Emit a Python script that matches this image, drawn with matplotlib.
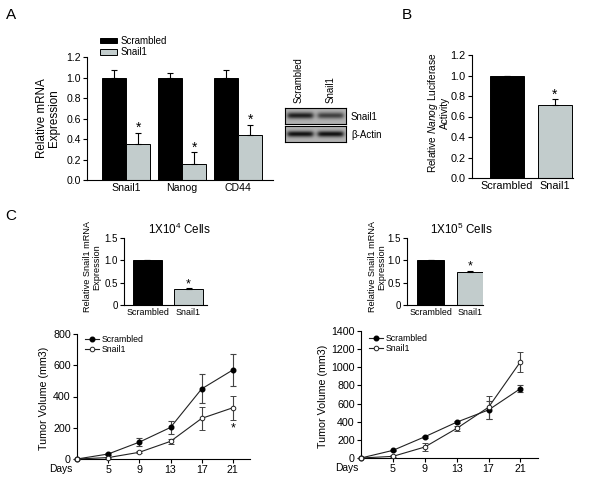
import matplotlib
matplotlib.use('Agg')
import matplotlib.pyplot as plt
import numpy as np
from matplotlib.lines import Line2D
from matplotlib.patches import Patch

plt.rcParams['font.family'] = ['Liberation Sans', 'DejaVu Sans']
plt.rcParams['mathtext.fontset'] = 'custom'
plt.rcParams['mathtext.rm'] = 'Liberation Sans'
plt.rcParams['mathtext.it'] = 'Liberation Sans:italic'

W, H = 600, 488
GRAY = '#c2cccc'

# panel A: qPCR
genes = ['Snail1', 'Nanog', 'CD44']
a_scr = [1.0, 1.0, 1.0]
a_scr_err = [0.07, 0.04, 0.07]
a_sn = [0.35, 0.16, 0.44]
a_sn_err = [0.11, 0.11, 0.10]

# panel B: luciferase
groups = ['Scrambled', 'Snail1']
b_vals = [1.0, 0.71]
b_err = [0.0, 0.06]

# panel C: inset bars
c1_vals = [1.0, 0.36]
c1_err = [0.0, 0.02]
c2_vals = [1.0, 0.75]
c2_err = [0.0, 0.02]

# panel C: tumor growth
days = [0, 5, 9, 13, 17, 21]
t1_scr = [0, 32, 108, 202, 449, 570]
t1_scr_err = [0, 8, 25, 40, 93, 100]
t1_sn = [0, 9, 43, 113, 260, 328]
t1_sn_err = [0, 4, 6, 15, 75, 78]
t2_scr = [0, 84, 234, 395, 530, 765]
t2_scr_err = [0, 8, 10, 12, 95, 37]
t2_sn = [0, 18, 121, 326, 560, 1061]
t2_sn_err = [0, 10, 45, 25, 125, 110]

# western blot band strength per lane
blot_lanes = ['Scrambled', 'Snail1']
blot_snail1 = [0.58, 0.45]
blot_actin = [0.64, 0.64]


def px_axes(fig, left, top, right, bottom):
    return fig.add_axes([left / W, 1 - bottom / H, (right - left) / W, (bottom - top) / H])


def ftext(fig, x, y, s, **kw):
    return fig.text(x / W, 1 - y / H, s, **kw)


def style(ax, fs):
    for s in ['top', 'right']:
        ax.spines[s].set_visible(False)
    for s in ['left', 'bottom']:
        ax.spines[s].set_linewidth(0.8)
    ax.tick_params(labelsize=fs, length=3, width=0.8, pad=1.5)


def star(ax, x, y, fs=10):
    ax.annotate('*', (x, y), xytext=(0, 0.5), textcoords='offset points',
                ha='center', va='baseline', fontsize=fs)


def two_bar(ax, vals, errs, width, fs, xfs):
    x = np.arange(len(vals))
    ax.bar(x, vals, width, color=['black', GRAY], edgecolor='black', lw=0.7,
           yerr=[[0] * len(vals), errs], capsize=2.5,
           error_kw=dict(elinewidth=0.8, capthick=0.8, ecolor='black'))
    ax.set_xticks(x)
    ax.set_xticklabels(groups)
    style(ax, fs)
    ax.tick_params(axis='x', length=0, pad=2, labelsize=xfs)
    return x


fig = plt.figure(figsize=(W / 100, H / 100), dpi=100)

# ---- A ----
ax = px_axes(fig, 87, 57, 273, 180)
x = np.arange(len(genes))
w = 0.43
ek = dict(elinewidth=0.8, capthick=0.8, ecolor='black')
ax.bar(x - w / 2, a_scr, w, color='black', edgecolor='black', lw=0.7,
       yerr=[[0] * 3, a_scr_err], capsize=2.5, error_kw=ek)
ax.bar(x + w / 2, a_sn, w, color=GRAY, edgecolor='black', lw=0.7,
       yerr=[[0] * 3, a_sn_err], capsize=2.5, error_kw=ek)
for i in range(len(genes)):
    star(ax, x[i] + w / 2, a_sn[i] + a_sn_err[i])
ax.set_xlim(-0.696, 2.625)
ax.set_ylim(0, 1.2)
ax.set_yticks(np.arange(0, 1.21, 0.2))
ax.set_yticklabels([f'{v:.1f}' for v in np.arange(0, 1.21, 0.2)])
ax.set_xticks(x)
ax.set_xticklabels(genes)
style(ax, 7.6)
ax.tick_params(axis='x', length=0, pad=2)
ax.legend(handles=[Patch(facecolor='black', edgecolor='black', lw=0.7),
                   Patch(facecolor=GRAY, edgecolor='black', lw=0.7)],
          labels=['Scrambled', 'Snail1'], loc='upper left',
          bbox_to_anchor=(100 / W, 1 - 36 / H), bbox_transform=fig.transFigure,
          frameon=False, fontsize=7, handlelength=1.7, handleheight=0.45,
          handletextpad=0.4, labelspacing=0.15, borderpad=0, borderaxespad=0)
ftext(fig, 48, 118, 'Relative mRNA\nExpression', rotation=90, ha='center',
      va='center', fontsize=8.4, multialignment='center', linespacing=1.05)
ftext(fig, 11, 15, 'A', ha='center', va='center', fontsize=11)

# western blot
yy, xx = np.mgrid[0:1:40j, 0:1:120j]
for top, bottom, strength in [(108, 124, blot_snail1), (126, 142, blot_actin)]:
    bax = px_axes(fig, 285, top, 346, bottom)
    img = np.full(xx.shape, 0.70)
    for i, c in enumerate([0.25, 0.75]):
        prof_x = 1 / (1 + np.exp((np.abs(xx - c) - 0.21) / 0.02))
        prof_y = np.exp(-((yy - 0.5) / 0.19) ** 2)
        img -= strength[i] * prof_x * prof_y
    bax.imshow(img, cmap='gray', vmin=0, vmax=1, aspect='auto', interpolation='bilinear')
    bax.set_xticks([])
    bax.set_yticks([])
    for s in bax.spines.values():
        s.set_linewidth(0.8)
for lx, lab in zip([299, 331], blot_lanes):
    ftext(fig, lx, 103, lab, rotation=90, ha='center', va='bottom', fontsize=6.9)
ftext(fig, 351, 117, 'Snail1', ha='left', va='center', fontsize=7)
ftext(fig, 351, 135, 'β-Actin', ha='left', va='center', fontsize=7)

# ---- B ----
ax = px_axes(fig, 472, 55, 573, 178)
xb = two_bar(ax, b_vals, b_err, 0.69, 7.8, 7.8)
star(ax, xb[1], b_vals[1] + b_err[1])
ax.set_xlim(-0.729, 1.375)
ax.set_ylim(0, 1.2)
ax.set_yticks(np.arange(0, 1.21, 0.2))
ax.set_yticklabels([f'{v:.1f}' for v in np.arange(0, 1.21, 0.2)])
ftext(fig, 433, 113, 'Relative $\\mathit{Nanog}$ Luciferase', rotation=90,
      ha='center', va='center', fontsize=7.3)
ftext(fig, 445, 113, 'Activity', rotation=90, ha='center', va='center', fontsize=7.3)
ftext(fig, 407, 15, 'B', ha='center', va='center', fontsize=11)

# ---- C insets ----
ftext(fig, 11, 216, 'C', ha='center', va='center', fontsize=11)
for (l, r), vals, errs, wd, xl, title, tx, lx in [
        ((124, 207), c1_vals, c1_err, 0.71, (-0.573, 1.451), '1X10$^{4}$ Cells', 179, 92),
        ((407, 483), c2_vals, c2_err, 0.68, (-0.595, 1.329), '1X10$^{5}$ Cells', 461, 377)]:
    ax = px_axes(fig, l, 238, r, 305)
    xc = two_bar(ax, vals, errs, wd, 7, 6.4)
    star(ax, xc[1], vals[1] + errs[1], fs=9)
    ax.set_xlim(*xl)
    ax.set_ylim(0, 1.5)
    ax.set_yticks([0, 0.5, 1.0, 1.5])
    ax.set_yticklabels(['0', '0.5', '1.0', '1.5'])
    ftext(fig, tx, 229, title, ha='center', va='center', fontsize=8.4)
    ftext(fig, lx, 267, 'Relative Snail1 mRNA\nExpression', rotation=90, ha='center',
          va='center', fontsize=6.6, multialignment='center', linespacing=1.05)

# ---- C growth curves ----
idx = np.arange(len(days))
for (l, r, top, bot), scr, scr_e, sn, sn_e, ymax, ylx, dx, leg in [
        ((77, 250, 334, 459), t1_scr, t1_scr_err, t1_sn, t1_sn_err, 800, 44, 73, (85, 335)),
        ((361, 538, 331, 458), t2_scr, t2_scr_err, t2_sn, t2_sn_err, 1400, 323, 358, (369, 334))]:
    ax = px_axes(fig, l, top, r, bot)
    ek = dict(elinewidth=0.8, capthick=0.8, ecolor='#444')
    ax.errorbar(idx, scr, yerr=scr_e, color='#222', lw=0.8, marker='o', ms=3.3,
                mfc='black', mec='black', capsize=2, clip_on=False, zorder=3, **ek)
    ax.errorbar(idx, sn, yerr=sn_e, color='#222', lw=0.8, marker='o', ms=3.3,
                mfc='white', mec='#222', mew=0.7, capsize=2, clip_on=False, zorder=3, **ek)
    ax.set_xlim(0, len(days) - 0.45)
    ax.set_ylim(0, ymax)
    ax.set_yticks(np.arange(0, ymax + 1, 200))
    ax.set_xticks(idx[1:])
    ax.set_xticklabels([str(d) for d in days[1:]])
    style(ax, 7.7)
    ftext(fig, ylx, (top + bot) / 2 + 2, 'Tumor Volume (mm3)', rotation=90,
          ha='center', va='center', fontsize=7.7)
    ftext(fig, dx, bot + 10, 'Days', ha='right', va='center', fontsize=7.4)
    ax.legend(handles=[Line2D([], [], color='#222', lw=0.8, marker='o', ms=3.3, mfc='black', mec='black'),
                       Line2D([], [], color='#222', lw=0.8, marker='o', ms=3.3, mfc='white', mec='#222', mew=0.7)],
              labels=['Scrambled', 'Snail1'], loc='upper left',
              bbox_to_anchor=(leg[0] / W, 1 - leg[1] / H), bbox_transform=fig.transFigure,
              frameon=False, fontsize=6.3, handlelength=1.6, handletextpad=0.3,
              labelspacing=0.15, borderpad=0, borderaxespad=0)
    if ymax == 800:
        ax.annotate('*', (5, 175), ha='center', va='baseline', fontsize=9)

fig.savefig('out.png', dpi=100)
